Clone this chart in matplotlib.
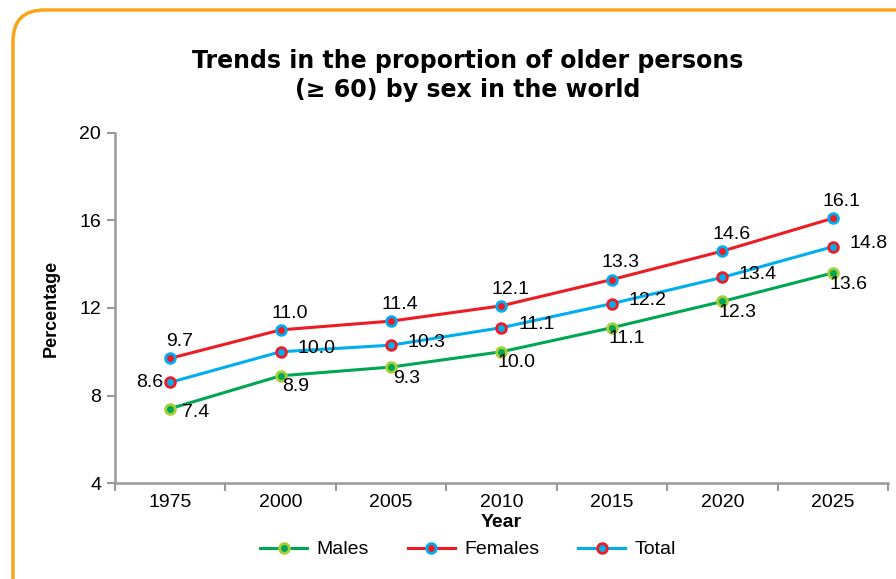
import matplotlib.pyplot as plt
from matplotlib.patches import FancyBboxPatch
import numpy as np

years = ['1975', '2000', '2005', '2010', '2015', '2020', '2025']
males = [7.4, 8.9, 9.3, 10.0, 11.1, 12.3, 13.6]
females = [9.7, 11.0, 11.4, 12.1, 13.3, 14.6, 16.1]
total = [8.6, 10.0, 10.3, 11.1, 12.2, 13.4, 14.8]

green = '#00A651'
red = '#ED1C24'
blue = '#00AEEF'
lime = '#A6CE39'

plt.rcParams['font.family'] = ['Liberation Sans', 'DejaVu Sans']

fig = plt.figure(figsize=(8.96, 5.79), dpi=100)
ax = fig.add_axes([0.1283, 0.1658, 0.8627, 0.6045])

# rounded orange frame
frame = FancyBboxPatch((13 / 896, -0.2), 1.2, (579 - 10) / 579 + 0.2,
                       boxstyle='round,pad=0,rounding_size=0.035',
                       transform=fig.transFigure, fill=False,
                       edgecolor='#F9A51A', linewidth=2.5,
                       mutation_aspect=896 / 579)
fig.patches.append(frame)

x = np.arange(len(years))
ax.plot(x, males, '-o', color=green, lw=2.2, ms=7, mfc=green, mec=lime, mew=2,
        label='Males')
ax.plot(x, females, '-o', color=red, lw=2.2, ms=7, mfc=red, mec=blue, mew=2,
        label='Females')
ax.plot(x, total, '-o', color=blue, lw=2.2, ms=7, mfc=blue, mec=red, mew=2,
        label='Total')

fs = 14
for i in range(len(years)):
    # females above
    ax.annotate(f'{females[i]:.1f}', (x[i], females[i]), xytext=(6.5, 12),
                textcoords='offset points', ha='center', va='center', fontsize=fs)
    # total to the right (first one to the left)
    if i == 0:
        ax.annotate(f'{total[i]:.1f}', (x[i], total[i]), xytext=(-5, 0),
                    textcoords='offset points', ha='right', va='center', fontsize=fs)
    else:
        ax.annotate(f'{total[i]:.1f}', (x[i], total[i]), xytext=(12, 2),
                    textcoords='offset points', ha='left', va='center', fontsize=fs)
    # males below right
    if i == 0:
        ax.annotate(f'{males[i]:.1f}', (x[i], males[i]), xytext=(18, -3),
                    textcoords='offset points', ha='center', va='center', fontsize=fs)
    else:
        ax.annotate(f'{males[i]:.1f}', (x[i], males[i]), xytext=(11, -8),
                    textcoords='offset points', ha='center', va='center', fontsize=fs)

ax.set_xlim(-0.5, len(years) - 0.5)
ax.set_ylim(4, 20)
ax.set_yticks([4, 8, 12, 16, 20])
ax.set_xticks(np.arange(-0.5, len(years), 1.0))
ax.set_xticklabels([])
ax.set_xticks(x, minor=True)
ax.set_xticklabels(years, minor=True)
ax.tick_params(axis='x', which='minor', length=0, pad=8, labelsize=14)
ax.tick_params(axis='x', which='major', length=6, width=1.5, color='#999999')
ax.tick_params(axis='y', length=6, width=1.5, color='#999999', labelsize=14, pad=4)

for s in ['top', 'right']:
    ax.spines[s].set_visible(False)
for s in ['left', 'bottom']:
    ax.spines[s].set_color('#999999')
    ax.spines[s].set_linewidth(1.8)

ax.set_xlabel('Year', fontsize=14, fontweight='bold', labelpad=2)
ax.set_ylabel('Percentage', fontsize=13, fontweight='bold', labelpad=14)

fig.text(0.522, 0.87, 'Trends in the proportion of older persons\n(\u2265 60) by sex in the world',
         ha='center', va='center', fontsize=17, fontweight='bold',
         family='DejaVu Sans', linespacing=1.25)

ax.legend(loc='upper center', bbox_to_anchor=(0.457, -0.115), ncol=3, frameon=False,
          fontsize=14, handlelength=2.4, columnspacing=2.0, handletextpad=0.5)

fig.savefig('out.png', dpi=100)
